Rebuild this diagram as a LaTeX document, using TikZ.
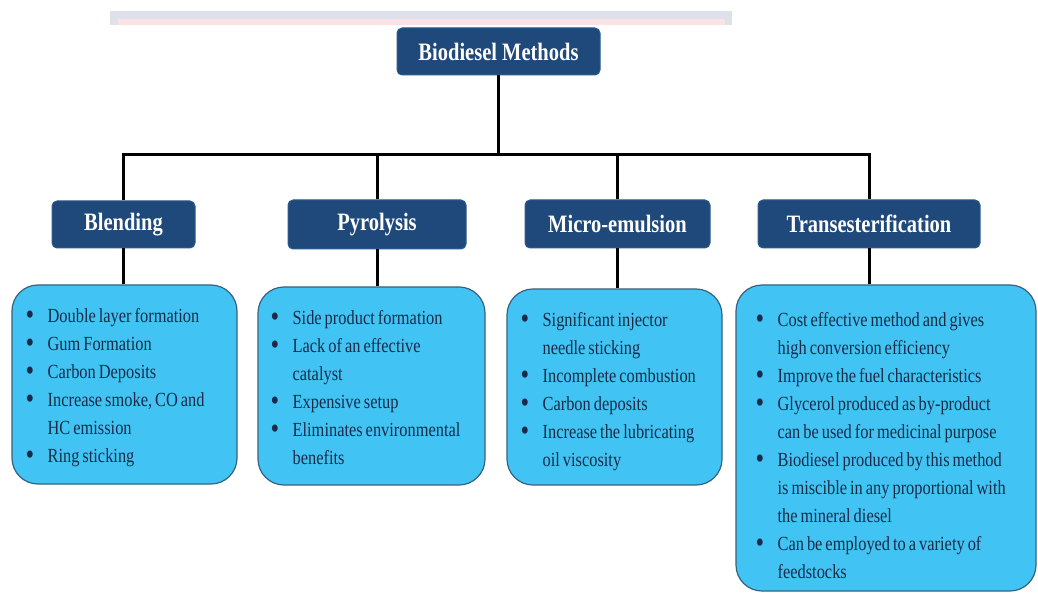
\documentclass[tikz,border=0pt]{standalone}
\usepackage{fontspec}
\usepackage{xcolor}
\setmainfont[FakeStretch=0.82]{Liberation Serif}
\definecolor{bdnavy}{HTML}{1F497A}
\definecolor{bdedge}{HTML}{2E5C8C}
\definecolor{bdcyan}{HTML}{41C4F4}
\definecolor{bdrim}{HTML}{35627F}
\definecolor{bdink}{HTML}{1B2A49}
\definecolor{bdgrey}{HTML}{DEE1E9}
\definecolor{bdpink}{HTML}{FAE2E5}

% font of the notes, with tighter word spaces
\newcommand{\bdnotefont}{\fontsize{20}{28}\selectfont\spaceskip=3pt plus 1pt minus 1pt\relax}
\tikzset{
  method/.style={draw=bdedge, fill=bdnavy, rounded corners=5pt, line width=1pt,
    text=white, font=\fontsize{25}{30}\selectfont\bfseries, inner sep=0pt},
  notes/.style={draw=bdrim, fill=bdcyan, rounded corners=26pt, line width=1.2pt},
  notetext/.style={anchor=north west, inner sep=0pt, text=bdink, font=\bdnotefont},
  link/.style={line width=3pt, black}
}
% one bullet row, and the bullet list itself (continuation lines start with &)
\newcommand{\bdpt}{{\fontsize{30}{28}\selectfont\raisebox{-2.5pt}{\textbullet}} &}
\newcommand{\bdlist}[1]{\begin{tabular}{@{}p{22pt}@{}l@{}}#1\end{tabular}}

\begin{document}
\begin{tikzpicture}[x=1pt, y=-1pt]
  % page is laid out in pixel units, y pointing down
  \useasboundingbox (0,0) rectangle (1038,593);
  \fill[white] (0,0) rectangle (1038,593);

  % faint band along the top edge
  \fill[bdgrey] (110,11) rectangle (732,25);
  \fill[bdpink] (118,19) rectangle (725,25);

  % the root and the four methods
  \node[method, minimum width=203pt, minimum height=47pt] (root) at (498.5,51.5) {Biodiesel Methods};
  \node[method, minimum width=143pt, minimum height=47pt] (blend) at (123.5,224.5) {Blending};
  \node[method, minimum width=178pt, minimum height=49pt] (pyro) at (377,224.5) {Pyrolysis};
  \node[method, minimum width=185pt, minimum height=48pt] (micro) at (617.5,224) {Micro-emulsion};
  \node[method, minimum width=222pt, minimum height=48pt] (trans) at (869,224) {Transesterification};

  % the boxes for the notes
  \node[notes, minimum width=225pt, minimum height=199pt] (blend-list) at (124.5,384.5) {};
  \node[notes, minimum width=227pt, minimum height=198pt] (pyro-list) at (371.5,386) {};
  \node[notes, minimum width=215pt, minimum height=196pt] (micro-list) at (614.5,387) {};
  \node[notes, minimum width=300pt, minimum height=306pt] (trans-list) at (886,438) {};

  % the notes themselves
  \node[notetext] (blend-text) at ([shift={(14,18)}]blend-list.north west) {\bdlist{%
      \bdpt Double layer formation\\
      \bdpt Gum Formation\\
      \bdpt Carbon Deposits\\
      \bdpt Increase smoke, CO and\\
      & HC emission\\
      \bdpt Ring sticking}};
  \node[notetext] (pyro-text) at ([shift={(13,18)}]pyro-list.north west) {\bdlist{%
      \bdpt Side product formation\\
      \bdpt Lack of an effective\\
      & catalyst\\
      \bdpt Expensive setup\\
      \bdpt Eliminates environmental\\
      & benefits}};
  \node[notetext] (micro-text) at ([shift={(14,18)}]micro-list.north west) {\bdlist{%
      \bdpt Significant injector\\
      & needle sticking\\
      \bdpt Incomplete combustion\\
      \bdpt Carbon deposits\\
      \bdpt Increase the lubricating\\
      & oil viscosity}};
  \node[notetext] (trans-text) at ([shift={(20,22)}]trans-list.north west) {\bdlist{%
      \bdpt Cost effective method and gives\\
      & high conversion  efficiency\\
      \bdpt Improve the fuel characteristics\\
      \bdpt Glycerol produced as by-product\\
      & can be used for medicinal purpose\\
      \bdpt Biodiesel produced by this method\\
      & is miscible in any proportional with\\
      & the mineral diesel\\
      \bdpt Can be employed to a variety of\\
      & feedstocks}};

  % connectors: root down to the bus, bus down to each method, method to its notes
  \coordinate (bus) at (0,155);
  \draw[link] (root.south) -- (root.south |- bus);
  \draw[link] ([xshift=-1.5pt]blend.north |- bus) -- ([xshift=1.5pt]trans.north |- bus);
  \foreach \m in {blend,pyro,micro,trans} {
    \draw[link] (\m.north |- bus) -- (\m.north);
    \draw[link] (\m.south) -- (\m.south |- \m-list.north);
  }
\end{tikzpicture}
\end{document}
